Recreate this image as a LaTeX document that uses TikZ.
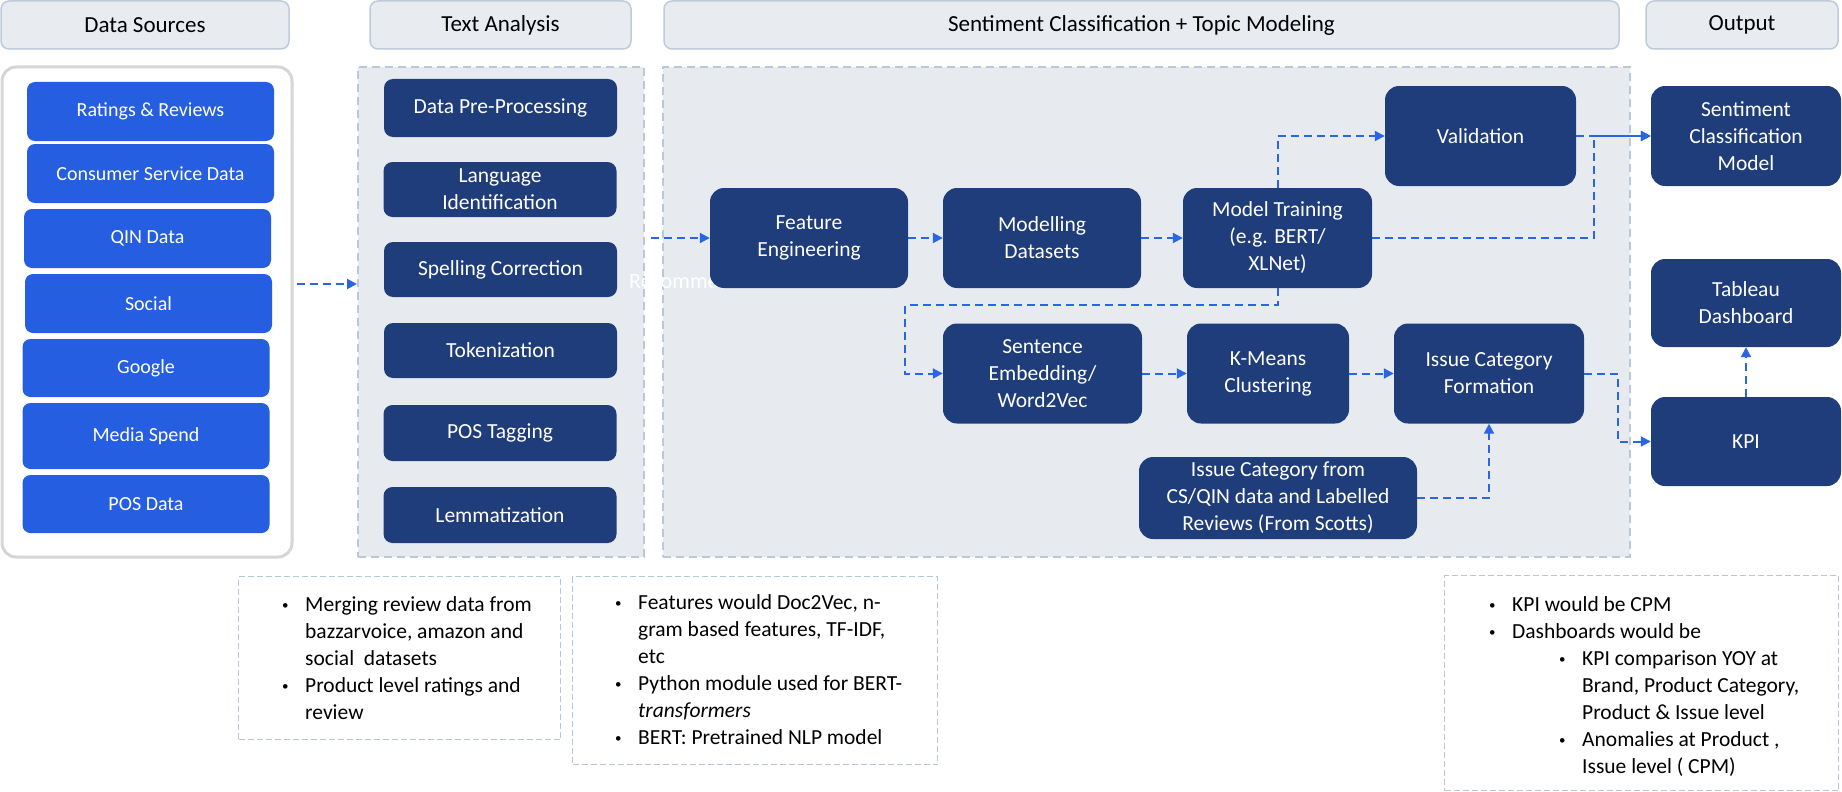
\documentclass[tikz,border=0pt]{standalone}
\usepackage{fontspec}
\setmainfont{Carlito}
\usetikzlibrary{arrows.meta}
\definecolor{hdrfill}{RGB}{232,236,241}
\definecolor{hdrline}{RGB}{191,203,218}
\definecolor{panelfill}{RGB}{231,235,240}
\definecolor{panelline}{RGB}{188,200,214}
\definecolor{dsline}{RGB}{214,214,214}
\definecolor{srcblue}{RGB}{37,94,225}
\definecolor{navy}{RGB}{31,61,122}
\definecolor{flowblue}{RGB}{41,101,228}
\definecolor{noteline}{RGB}{184,197,212}
\newcommand{\bul}{\strut\makebox[23pt][l]{\raisebox{1.5pt}{\fontsize{13}{13}\selectfont\textbullet}}}
\newcommand{\gap}{\strut\hspace*{23pt}}
\newcommand{\sub}{\hspace*{70pt}}

\begin{document}
\begin{tikzpicture}[x=1pt,y=-1pt]
\tikzstyle{every node}+=[inner sep=0pt]
\tikzstyle{hdr}=[draw=hdrline, fill=hdrfill, line width=1.5pt, rounded corners=8pt, minimum height=48pt, font=\fontsize{23}{28}\selectfont]
\tikzstyle{panel}=[draw=panelline, fill=panelfill, line width=2pt, dash pattern=on 8pt off 5pt, minimum height=490pt]
\tikzstyle{srcbox}=[fill=srcblue, text=white, rounded corners=8pt, minimum width=247pt, minimum height=59pt, font=\fontsize{20}{25}\selectfont]
\tikzstyle{prepbox}=[fill=navy, text=white, rounded corners=9pt, align=center, minimum width=233pt, minimum height=56pt, font=\fontsize{21.5}{27}\selectfont]
\tikzstyle{navbox}=[fill=navy, text=white, rounded corners=14pt, align=center, minimum height=100pt, font=\fontsize{21.5}{27}\selectfont]
\tikzstyle{flow}=[draw=flowblue, line width=2pt, dash pattern=on 8pt off 5pt, -{Triangle[length=10pt,width=10pt]}]
\tikzstyle{note}=[draw=noteline, line width=1.2pt, dash pattern=on 6pt off 3pt, anchor=north west]
\tikzstyle{notetext}=[anchor=north west, align=left, font=\fontsize{21.5}{27}\selectfont]
\useasboundingbox (0,0) rectangle (1842,792);
\node[hdr, minimum width=288pt] (hds) at (145,25) {Data Sources};
\node[hdr, minimum width=261pt] (hta) at (500.5,25) {Text Analysis};
\node[hdr, minimum width=955pt] (hsc) at (1141.5,25) {Sentiment Classification + Topic Modeling};
\node[hdr, minimum width=192pt] (hout) at (1742,25) {Output};
\node[draw=dsline, fill=white, line width=3pt, rounded corners=14pt, minimum width=290pt, minimum height=490pt] (dsbox) at (147,312) {};
\node[panel, minimum width=286pt] (tabox) at (501,312) {};
\node[panel, minimum width=967pt] (scbox) at (1146.5,312) {};
\node[srcbox] (ratings) at (150.5,111.5) {Ratings \& Reviews};
\node[srcbox] (consumer) at (150.5,173.5) {Consumer Service Data};
\node[srcbox] (qin) at (147.5,238.5) {QIN Data};
\node[srcbox] (social) at (148.5,303.5) {Social};
\node[srcbox, minimum height=58pt] (google) at (146,368) {Google};
\node[srcbox, minimum height=66pt] (media) at (146,436) {Media Spend};
\node[srcbox, minimum height=58pt] (posdata) at (146,504) {POS Data};
\node[prepbox, minimum height=58pt] (prep) at (500.5,108) {Data Pre-Processing};
\node[prepbox, minimum height=55pt] (lang) at (500,189.5) {Language\\Identification};
\node[prepbox, minimum height=55pt] (spell) at (500.5,269.5) {Spelling Correction};
\node[prepbox, minimum height=55pt] (token) at (500.5,350.5) {Tokenization};
\node[prepbox] (postag) at (500,433) {POS Tagging};
\node[prepbox] (lemma) at (500,515) {Lemmatization};
\node[anchor=base west, text=white, font=\fontsize{22}{26}\selectfont] (recomm) at (629,288) {Recommendation};
\node[navbox, minimum width=198pt] (fe) at (809,238) {Feature\\Engineering};
\node[navbox, minimum width=198pt] (md) at (1042,238) {Modelling\\Datasets};
\node[navbox, minimum width=189pt] (mt) at (1277.5,238) {Model Training\\(e.g. BERT/\\XLNet)};
\node[navbox, minimum width=191pt] (val) at (1480.5,136) {Validation};
\node[navbox, minimum width=199pt] (se) at (1042.5,373.5) {Sentence\\Embedding/\\Word2Vec};
\node[navbox, minimum width=162pt] (km) at (1268,373.5) {K-Means\\Clustering};
\node[navbox, minimum width=190pt] (icf) at (1489,373.5) {Issue Category\\Formation};
\node[navbox, minimum width=278pt, minimum height=82pt] (icsrc) at (1278,498) {Issue Category from\\CS/QIN data and Labelled\\Reviews (From Scotts)};
\node[navbox, minimum width=190pt] (scm) at (1746,136) {Sentiment\\Classification\\Model};
\node[navbox, minimum width=190pt, minimum height=88pt] (tab) at (1746,303) {Tableau\\Dashboard};
\node[navbox, minimum width=190pt, minimum height=89pt] (kpi) at (1746,441.5) {KPI};
\draw[flow] ([xshift=3pt,yshift=28pt]dsbox.east) -- ([yshift=28pt]tabox.west);
\draw[flow] ([xshift=6pt]tabox.east |- fe.west) -- (fe.west);
\draw[flow] (fe.east) -- (md.west);
\draw[flow] (md.east) -- (mt.west);
\draw[flow] (mt.north) |- (val.west);
\draw[flow] (val.east) -- (scm.west);
\draw[flow] (mt.east) -| ([xshift=18pt]val.east) |- (scm.west);
\draw[flow] (mt.south) -- ++(0,17) -| ([xshift=-38pt]se.west) -- (se.west);
\draw[flow] (se.east) -- (km.west);
\draw[flow] (km.east) -- (icf.west);
\draw[flow] (icsrc.east) -| (icf.south);
\draw[flow] (icf.east) -- ++(34,0) |- (kpi.west);
\draw[flow] (kpi.north) -- (tab.south);
\node[note, minimum width=322pt, minimum height=163pt] (n1) at (238,576) {};
\node[note, minimum width=365pt, minimum height=188pt] (n2) at (572,576) {};
\node[note, minimum width=394pt, minimum height=215pt] (n3) at (1444,575) {};
\node[notetext] (n1txt) at ([xshift=44pt,yshift=-16pt]n1.north west) {\bul Merging review data from\\\gap bazzarvoice, amazon and\\\gap social\ \ datasets\\\bul Product level ratings and\\\gap review};
\node[notetext] (n2txt) at ([xshift=43pt,yshift=-14pt]n2.north west) {\bul Features would Doc2Vec, n-\\\gap gram based features, TF-IDF,\\\gap etc\\\bul Python module used for BERT-\\\gap \textit{transformers}\\\bul BERT: Pretrained NLP model};
\node[notetext] (n3txt) at ([xshift=45pt,yshift=-17pt]n3.north west) {\bul KPI would be CPM\\\bul Dashboards would be\\\sub\bul KPI comparison YOY at\\\sub\gap Brand, Product Category,\\\sub\gap Product \& Issue level\\\sub\bul Anomalies at Product ,\\\sub\gap Issue level ( CPM)};
\end{tikzpicture}
\end{document}
